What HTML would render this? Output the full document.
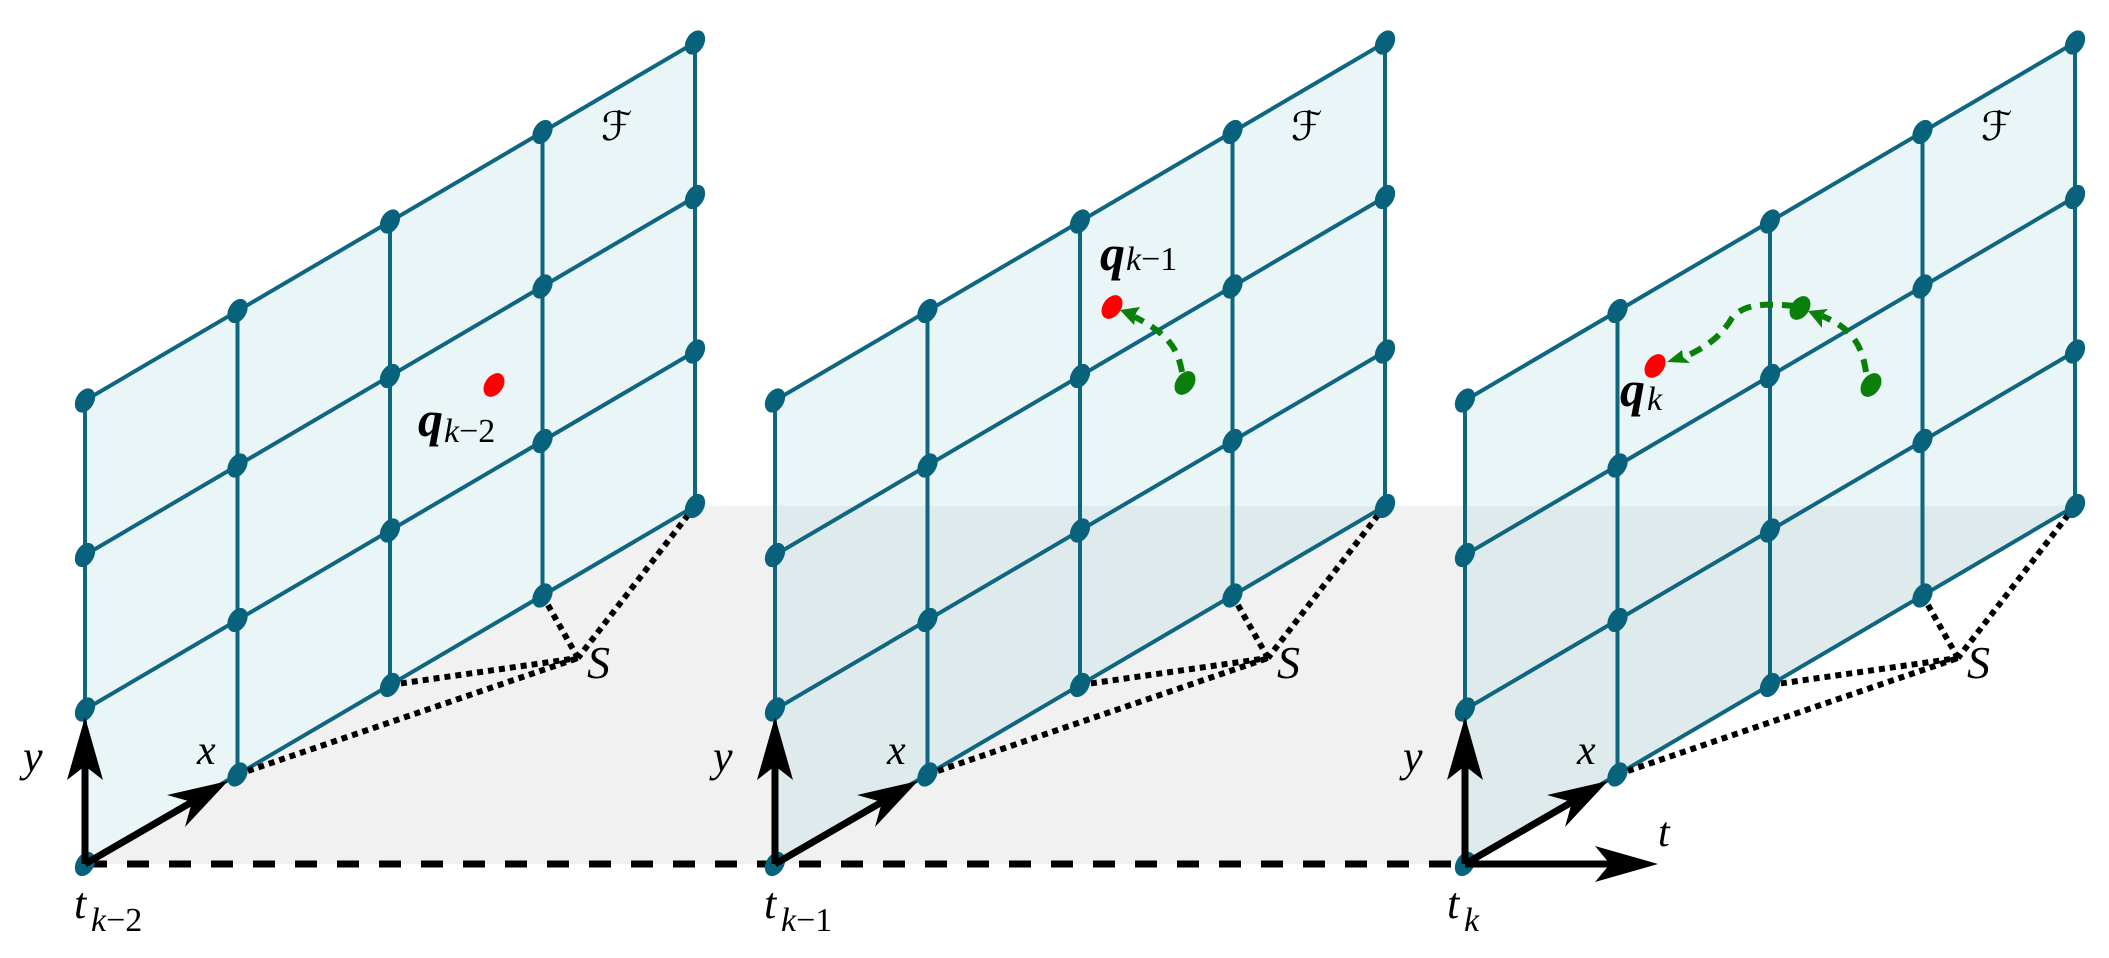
<!DOCTYPE html>
<html><head><meta charset="utf-8"><style>html,body{margin:0;padding:0;background:#fff}svg{display:block}
.it{font-family:"Liberation Serif","DejaVu Serif",serif;font-style:italic}
.up{font-style:normal}
.sc{font-family:"DejaVu Serif",serif;font-style:normal}
</style></head>
<body>
<svg width="2109" height="958" viewBox="0 0 2109 958" xmlns="http://www.w3.org/2000/svg">
<defs>
<g id="panel">
  <polygon points="0,0 610,-358 610,-821.5 0,-463.5" fill="rgb(170,215,228)" fill-opacity="0.25"/>
  <g stroke="#0e6680" stroke-width="4" fill="none">
    <line x1="0" y1="0" x2="610" y2="-358"/>
    <line x1="0" y1="-154.5" x2="610" y2="-512.5"/>
    <line x1="0" y1="-309" x2="610" y2="-667"/>
    <line x1="0" y1="-463.5" x2="610" y2="-821.5"/>
    <line x1="0" y1="0" x2="0" y2="-463.5"/>
    <line x1="152.5" y1="-89.5" x2="152.5" y2="-553"/>
    <line x1="305" y1="-179" x2="305" y2="-642.5"/>
    <line x1="457.5" y1="-268.5" x2="457.5" y2="-732"/>
    <line x1="610" y1="-358" x2="610" y2="-821.5"/>
  </g>
  <g stroke="#000" stroke-width="6" stroke-dasharray="6 5" fill="none">
    <line x1="152.5" y1="-89.5" x2="493" y2="-206"/>
    <line x1="305" y1="-179" x2="493" y2="-206"/>
    <line x1="457.5" y1="-268.5" x2="493" y2="-206"/>
    <line x1="610" y1="-358" x2="493" y2="-206"/>
  </g>
  <g fill="#08627c">
    <ellipse rx="9" ry="13" transform="translate(0,0) rotate(30)"/>
    <ellipse rx="9" ry="13" transform="translate(152.5,-89.5) rotate(30)"/>
    <ellipse rx="9" ry="13" transform="translate(305,-179) rotate(30)"/>
    <ellipse rx="9" ry="13" transform="translate(457.5,-268.5) rotate(30)"/>
    <ellipse rx="9" ry="13" transform="translate(610,-358) rotate(30)"/>
    <ellipse rx="9" ry="13" transform="translate(0,-154.5) rotate(30)"/>
    <ellipse rx="9" ry="13" transform="translate(152.5,-244) rotate(30)"/>
    <ellipse rx="9" ry="13" transform="translate(305,-333.5) rotate(30)"/>
    <ellipse rx="9" ry="13" transform="translate(457.5,-423) rotate(30)"/>
    <ellipse rx="9" ry="13" transform="translate(610,-512.5) rotate(30)"/>
    <ellipse rx="9" ry="13" transform="translate(0,-309) rotate(30)"/>
    <ellipse rx="9" ry="13" transform="translate(152.5,-398.5) rotate(30)"/>
    <ellipse rx="9" ry="13" transform="translate(305,-488) rotate(30)"/>
    <ellipse rx="9" ry="13" transform="translate(457.5,-577.5) rotate(30)"/>
    <ellipse rx="9" ry="13" transform="translate(610,-667) rotate(30)"/>
    <ellipse rx="9" ry="13" transform="translate(0,-463.5) rotate(30)"/>
    <ellipse rx="9" ry="13" transform="translate(152.5,-553) rotate(30)"/>
    <ellipse rx="9" ry="13" transform="translate(305,-642.5) rotate(30)"/>
    <ellipse rx="9" ry="13" transform="translate(457.5,-732) rotate(30)"/>
    <ellipse rx="9" ry="13" transform="translate(610,-821.5) rotate(30)"/>
  </g>
  <line x1="0" y1="0" x2="0" y2="-100" stroke="#000" stroke-width="7"/>
  <polygon points="0,-147 18,-84 0,-98 -18,-84" fill="#000"/>
  <line x1="0" y1="0" x2="107" y2="-62" stroke="#000" stroke-width="7"/>
  <polygon points="143,-83 100,-37 107,-62 82,-69" fill="#000"/>
  <g fill="#000">
    <text class="it" x="-62" y="-93" font-size="44">y</text>
    <text class="it" x="112" y="-100" font-size="42">x</text>
    <text class="it" x="502" y="-186" font-size="46">S</text>
    <text class="sc" x="516" y="-724" font-size="40">ℱ</text>
  </g>
</g>
</defs>

<polygon points="85,864 695,506 2075,506 1465,864" fill="#f1f1f1"/>
<line x1="85" y1="864" x2="1465" y2="864" stroke="#000" stroke-width="7" stroke-dasharray="22 20"/>

<use href="#panel" transform="translate(85,864)"/>
<use href="#panel" transform="translate(775,864)"/>
<use href="#panel" transform="translate(1465,864)"/>

<line x1="1465" y1="864" x2="1612" y2="864" stroke="#000" stroke-width="7"/>
<polygon points="1658,864 1595,846 1610,864 1595,882" fill="#000"/>

<g fill="#000">
  <text class="it" x="1658" y="846" font-size="42">t</text>
  <text class="it" x="74" y="918" font-size="44">t</text><text class="it" x="91" y="931" font-size="34">k<tspan class="up">−2</tspan></text>
  <text class="it" x="764" y="918" font-size="44">t</text><text class="it" x="781" y="931" font-size="34">k<tspan class="up">−1</tspan></text>
  <text class="it" x="1447" y="918" font-size="44">t</text><text class="it" x="1464" y="931" font-size="34">k</text>
  <text class="it" x="418" y="436" font-size="50" font-weight="bold">q</text><text class="it" x="444" y="442" font-size="34">k<tspan class="up">−2</tspan></text>
  <text class="it" x="1100" y="270" font-size="50" font-weight="bold">q</text><text class="it" x="1126" y="270" font-size="34">k<tspan class="up">−1</tspan></text>
  <text class="it" x="1620" y="406" font-size="50" font-weight="bold">q</text><text class="it" x="1647" y="410" font-size="34">k</text>
</g>

<ellipse rx="9" ry="13" fill="#f00" transform="translate(494,385) rotate(35)"/>
<ellipse rx="9" ry="13" fill="#f00" transform="translate(1112,307) rotate(35)"/>
<ellipse rx="9" ry="13" fill="#f00" transform="translate(1655,366) rotate(35)"/>

<g stroke="#0a7f0a" stroke-width="6" fill="none" stroke-dasharray="13 9">
  <path d="M1182,372 C1178,350 1170,335 1135,317"/>
  <path d="M1866,372 C1862,345 1852,328 1822,316"/>
  <path d="M1795,306 C1770,304 1745,302 1732,318 C1720,338 1705,348 1678,360"/>
</g>
<g fill="#0a7f0a">
  <polygon points="1120,310 1140,307 1136,313 1134,325"/>
  <polygon points="1808,311 1828,309 1822,315 1822,328"/>
  <polygon points="1667,362 1682,350 1683,357 1690,363"/>
  <ellipse rx="9" ry="13" transform="translate(1185,383) rotate(35)"/>
  <ellipse rx="9" ry="13" transform="translate(1800,308) rotate(35)"/>
  <ellipse rx="9" ry="13" transform="translate(1871,385) rotate(35)"/>
</g>
</svg>
</body></html>
